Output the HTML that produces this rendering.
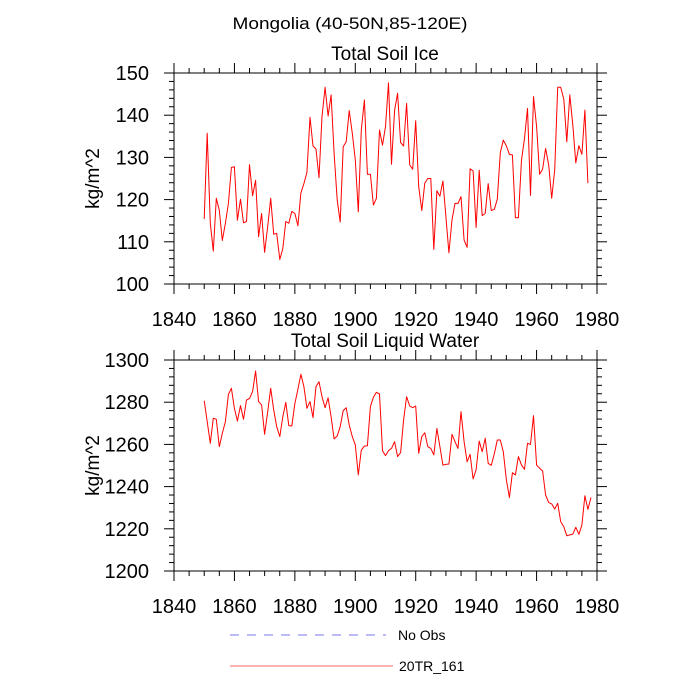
<!DOCTYPE html>
<html><head><meta charset="utf-8"><style>
html,body{margin:0;padding:0;background:#fff;}
svg{display:block;font-family:"Liberation Sans",Arial,sans-serif;}
</style></head><body>
<svg id="chart" width="700" height="700" viewBox="0 0 700 700" xmlns="http://www.w3.org/2000/svg">
<text x="350" y="29" font-size="17" text-anchor="middle" textLength="235" lengthAdjust="spacingAndGlyphs">Mongolia (40-50N,85-120E)</text>
<g id="legend">
<line x1="230" y1="635" x2="386" y2="635" stroke="#7777ee" stroke-width="1" stroke-dasharray="9,8"/>
<text x="398" y="640" font-size="14">No Obs</text>
<line x1="230" y1="666" x2="393" y2="666" stroke="#ff6666" stroke-width="1"/>
<text x="399" y="671" font-size="14">20TR_161</text>
</g>
</svg>
<script>
const years = Array.from({length:129},(_,i)=>1850+i);
const iceValues = [115.4,135.7,114.4,107.8,120.3,117.5,110.3,114.4,119.1,127.6,127.8,115.1,120.1,114.5,114.8,128.3,120.9,124.6,111.2,116.7,107.5,113.6,120.3,111.8,112.0,105.8,108.4,114.8,114.4,117.2,116.7,113.8,121.6,123.8,126.4,139.5,132.7,132.0,125.2,139.7,146.6,139.8,144.8,131.0,119.9,114.7,132.5,133.7,141.1,135.7,129.4,117.1,136.5,143.6,126.0,126.0,118.7,120.3,136.5,132.9,137.3,147.7,128.4,141.2,
145.2,133.5,132.7,142.8,128.2,127.2,138.7,123.1,117.4,123.9,125.0,125.0,108.2,122.1,120.8,124.4,116.0,107.4,115.2,119.1,119.1,120.7,110.4,108.7,127.3,126.8,113.4,127.0,116.2,116.7,123.8,117.4,117.7,120.1,131.1,134.1,132.7,130.7,130.6,115.7,115.7,129.4,134.5,141.6,121.0,144.4,137.3,126.0,127.2,132.1,128.2,120.3,127.0,146.6,146.6,143.8,133.7,144.8,137.7,128.7,132.8,130.7,141.2,123.9];
const waterValues = [1280.7,1270.8,1260.5,1272.4,1271.9,1258.9,1265.2,1270.8,1283.7,1286.6,1277.1,1271.1,1278.4,1271.9,1281.0,1281.8,1285.0,1294.8,1280.3,1278.7,1264.8,1275.5,1286.6,1276.3,1268.4,1263.7,1273.1,1279.9,1268.9,1268.7,1279.5,1286.1,1293.2,1287.4,1277.1,1280.3,1272.7,1287.4,1289.7,1282.6,1277.4,1282.1,1273.1,1262.6,1264.0,1268.4,1276.0,1277.4,1269.2,1263.7,1259.7,1245.5,1257.3,1259.2,1259.4,1277.9,1282.3,1284.7,1283.9,1257.0,1254.7,1257.0,1258.1,1261.3,
1254.2,1256.1,1271.6,1282.6,1278.2,1277.4,1278.2,1255.8,1263.7,1265.5,1258.9,1258.1,1255.0,1267.6,1258.9,1250.2,1250.5,1250.7,1264.8,1261.3,1258.1,1275.5,1261.3,1251.8,1255.3,1243.6,1247.9,1261.6,1256.5,1262.9,1251.0,1250.1,1255.5,1262.1,1262.1,1256.5,1243.1,1234.8,1246.6,1245.5,1254.2,1250.2,1248.2,1260.5,1260.0,1273.6,1250.2,1248.7,1247.4,1236.0,1232.4,1231.8,1229.4,1232.1,1223.4,1221.0,1216.7,1217.1,1217.5,1220.7,1217.4,1221.8,1235.7,1229.2,1234.9];
const xTicks = [1840,1860,1880,1900,1920,1940,1960,1980];
const iceTicks = [100,110,120,130,140,150];
const waterTicks = [1200,1220,1240,1260,1280,1300];

const NS='http://www.w3.org/2000/svg';
const svg=document.getElementById('chart');
function mk(tag,attrs,parent){const e=document.createElementNS(NS,tag);for(const k in attrs)e.setAttribute(k,attrs[k]);(parent||svg).appendChild(e);return e;}

function panel(cfg){
  const L=174,R=597,T=cfg.top,B=cfg.bottom;
  const g=mk('g',{});
  
  
  const xs=v=>L+(v-1840)/(1980-1840)*(R-L);
  const ys=v=>B-(v-cfg.ymin)/(cfg.ymax-cfg.ymin)*(B-T);
  for(let yr=1840;yr<=1980;yr+=5){
    const maj=yr%20===0,len=maj?10:5,x=xs(yr);
    const t1=mk('line',{x1:x,y1:B,x2:x,y2:B+len,stroke:'#000','stroke-width':1},g);
    
    
    const t2=mk('line',{x1:x,y1:T,x2:x,y2:T-len,stroke:'#000','stroke-width':1},g);
    
    
  }
  const step=(cfg.ymax-cfg.ymin)/25;
  for(let i=0;i<=25;i++){
    const v=cfg.ymin+i*step,maj=i%5===0,len=maj?10:5,y=ys(v);
    const t1=mk('line',{x1:L,y1:y,x2:L-len,y2:y,stroke:'#000','stroke-width':1},g);
    
    
    const t2=mk('line',{x1:R,y1:y,x2:R+len,y2:y,stroke:'#000','stroke-width':1},g);
    
    
  }
  xTicks.forEach(v=>{
    const t=mk('text',{x:xs(v),y:B+42,'font-size':20,'text-anchor':'middle'},g);
    t.textContent=v;
    
    
  });
  cfg.ticks.forEach(v=>{
    const t=mk('text',{x:149,y:ys(v)+7,'font-size':20,'text-anchor':'end'},g);
    t.textContent=v;
    
    
  });
  const pts=cfg.values.map((v,i)=>xs(years[i]).toFixed(1)+','+ys(v).toFixed(1)).join(' ');
  const line=mk('polyline',{points:pts,fill:'none',stroke:'#ff0000','stroke-width':1,'stroke-linejoin':'round'},g);
  
  
  const fr=mk('rect',{x:L,y:T,width:R-L,height:B-T,fill:'none',stroke:'#000','stroke-width':1},g);
  
  
  const ti=mk('text',{x:385,y:T-13,'font-size':19,'text-anchor':'middle'},g);
  ti.textContent=cfg.title;
  
  
  const cy=(T+B)/2;
  const yt=mk('text',{x:0,y:0,'font-size':19,'text-anchor':'middle',transform:'translate(99,'+cy+') rotate(-90)'},g);
  yt.textContent='kg/m^2';
  
  
}
panel({name:'soil-ice-panel',title:'Total Soil Ice',top:73,bottom:284,ymin:100,ymax:150,ticks:iceTicks,values:iceValues});
panel({name:'soil-liquid-water-panel',title:'Total Soil Liquid Water',top:360,bottom:571,ymin:1200,ymax:1300,ticks:waterTicks,values:waterValues});
</script>
</body></html>
